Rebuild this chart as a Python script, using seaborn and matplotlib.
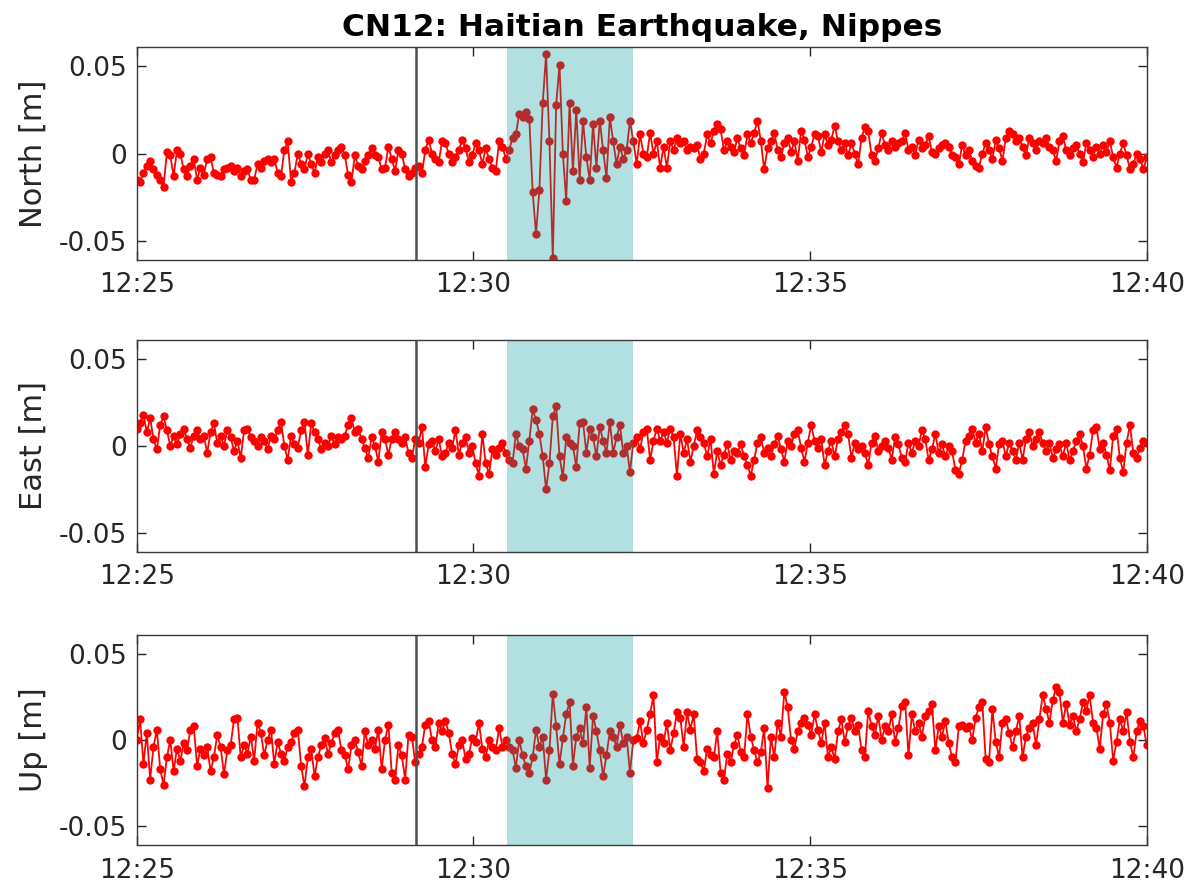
import numpy as np
import pandas as pd
import matplotlib
matplotlib.use("Agg")
import matplotlib.pyplot as plt
import seaborn as sns

# ---------------- data (displacements in millimetres) ----------------
north_mm = [
    -15, -16, -11, -7, -4, -9, -12, -15, -19, 1,
    -1, -13, 2, 0, -9, -13, -7, -3, -15, -8,
    -12, -3, -2, -11, -12, -13, -9, -8, -7, -10,
    -8, -13, -10, -9, -15, -15, -6, -8, -4, -3,
    -5, -3, -11, -13, 2, 7, -16, -11, 0, -6,
    -9, 0, -6, -11, -2, -5, 0, 2, -5, -1,
    2, 4, -1, -12, -16, -1, -7, -9, -4, -1,
    3, -1, -2, -9, -8, 4, -3, -10, 2, 0,
    -9, -13, -11, -8,
    -7, -11, 2, 8, 0, -3, -5, 7, 6, 0,
    -5, -2, 2, 8, 3, -5, -1, 6, 2, -6,
    3, -3, -8, -10, 7, 4, -3, 2, 9, 11,
    23, 21, 24, 20, -22, -46, -21, 29, 57, 7,
    -60, 28, 51, 0, -27, 29, -10, 25, -15, 19,
    -2, -15, 17, -8, 19, 2, -14, 21, 7, -6,
    4, -3, 2, 19, 7, -6, 11, 0, -2, 12,
    0, 7, -8, 4, -8, 7, 2, 9,
    6, 7, 2, 4, 3, 5, -3, 0, 11, 6,
    13, 17, 14, 2, 7, 4, 1, 9, 3, -1,
    11, 6, 12, 19, 7, -9, 3, 7, 12, 2,
    -2, 6, 9, 1, 7, -4, 13, 8, -2, 4,
    11, 10, 1, 11, 5, 8, 16, 7, 2, 6,
    -1, 6, 0, -6, 9, 15, 13, -1, -4, 3,
    12, 5, 2, 7, 4, 6, 7, 12, 2, 4,
    -1, 8, 3, 5, 10, 1, 0, 3, 5, 6,
    4, -1, -2, -6, 5, -1, 2, -4, -7, -8,
    0, 6, 2, -3, 8, 3, -4, 9, 13, 11,
    7, 9, 4, -1, 9, 6, 2, 7, 6, 9,
    4, 2, -4, 7, 10, 2, -1, 3, 5, 0,
    -5, 6, 2, -2, 4, 0, 5, 1, 7, -2,
    -8, 0, 6, -1, -9, -6, 0, -3, -9, -2,
]

east_mm = [
    10, 13, 18, 8, 16, 4, -2, 12, 17, 9,
    0, 6, 1, 7, 10, 4, -1, 6, 9, 4,
    6, -4, 8, 13, 2, 6, 0, 9, 5, -3,
    3, -7, 9, 10, 5, 3, 0, 5, 3, -2,
    6, 4, 9, 14, 0, -8, 6, 1, -1, 9,
    14, -5, 13, 8, 4, -2, 2, 0, 6, 1,
    5, 4, 6, 12, 16, 8, 10, 4, -1, -7,
    5, 0, -9, 8, 4, -5, 4, 8, 4, 2,
    5, -4, -7, 4,
    2, 11, -12, 1, 3, -3, 4, -6, -4, 2,
    -1, 9, -5, 2, 5, -4, 0, -10, -17, 7,
    -10, -16, -2, -5, -1, 2, -4, -8, -10, 7,
    0, -2, -13, 3, 21, 15, 7, -6, -25, -10,
    17, 23, -6, -18, 5, 2, 0, -12, 13, 14,
    -4, 10, 5, -6, 11, 3, -4, 14, -4, 5,
    12, -4, 0, -15, 2, 5, -2, 8, 10, -8,
    3, 10, 3, 8, 2, 10, 5, -17,
    7, -4, 4, -9, 0, 9, 5, 2, -6, 4,
    -16, -3, -11, -5, 1, -8, -3, -4, 1, -6,
    -11, -17, -8, 2, 5, -4, -1, -6, 1, 6,
    -2, -9, 3, 0, 7, 9, -1, -9, 2, 12,
    3, -1, 4, -11, -3, 3, -6, 4, 8, 12,
    7, -7, 2, -2, 0, -4, -11, 2, 6, -3,
    0, 3, -1, -8, 5, 1, -7, -9, 2, -4,
    3, 0, 9, 4, -8, -2, 7, -4, 1, -6,
    0, -3, -14, -16, -8, 3, 6, 10, 2, 7,
    -3, 11, 1, -6, -13, 1, 3, -6, 2, -3,
    -8, 2, -8, 4, 8, 0, 4, 8, 2, -3,
    2, -7, -2, 1, -6, 2, -8, -3, 3, 7,
    0, -13, -5, 9, 11, -2, 2, -5, -14, 6,
    10, -7, -15, 2, 12, -4, -7, -1, 3, 2,
]

up_mm = [
    0, 12, -14, 4, -23, -4, 6, -17, -26, -10,
    0, -18, -5, -12, -2, -6, 6, 8, -15, -5,
    -9, -4, -18, -10, 3, -4, -20, -6, -3, 12,
    13, -10, -3, -8, 2, -12, 10, 4, -9, 0,
    6, -14, -1, -8, -12, -4, -1, 4, 6, -15,
    -27, -10, -5, -21, -10, -3, 1, -8, -2, 4,
    6, -6, -9, -17, -3, 0, -7, -15, 5, -3,
    0, -5, 6, -17, 0, 9, -19, -23, -3, -9,
    -23, 3, 2, -13,
    -8, -4, 9, 11, 0, -4, 10, 5, 11, 4,
    -8, -14, -3, 0, -11, -8, 1, -1, 10, -5,
    -10, 0, -4, -6, 7, -4, 0, -4, -6, -16,
    0, -9, -15, -19, -10, 6, -4, 2, -23, -6,
    27, 8, -14, 1, 15, 22, -15, 2, 7, -2,
    19, -16, 14, 5, -6, -21, -9, 5, 2, -4,
    9, -2, 2, -19, 0, 1, 11, -2, 6, 15,
    26, -13, 2, -2, 10, -6, 4, 16,
    13, -4, 16, 6, 15, -11, -13, -18, -5, -9,
    -10, 5, -19, -23, -8, -13, -3, 3, -7, -10,
    15, 2, -6, -13, -7, 7, -28, 2, -10, 10,
    2, 28, 19, 0, -5, 5, 10, 13, 9, 3,
    15, 6, -2, 10, -10, -4, -11, 5, 12, -1,
    8, 13, 5, 9, -6, -10, 17, 8, 3, 14,
    0, 8, 5, 15, -1, 7, 20, 22, -9, 15,
    5, 10, 2, 14, 17, 21, -6, 8, 2, 11,
    -2, -10, -13, 8, 9, 7, 8, 0, 13, 19,
    22, -11, -13, 18, -1, -10, 10, 12, 4, -4,
    5, 14, -10, 2, 7, 10, -3, 12, 26, 18,
    10, 23, 31, 28, 10, 21, 9, 14, 5, 12,
    22, 17, 26, 10, 7, -5, 15, 21, 10, -12,
    -1, 12, 5, 16, -1, -10, 5, 11, 8, -3,
]

component_labels = ["North [m]", "East [m]", "Up [m]"]
title_text = "CN12: Haitian Earthquake, Nippes"
day = "2021-08-14"
start_time = "12:25:00"
end_time = "12:40:00"
event_time = "12:29:09"
shade_start = "12:30:30"
shade_end = "12:32:22"
xtick_labels = ["12:25", "12:30", "12:35", "12:40"]
ytick_values = [-0.05, 0.0, 0.05]
ytick_labels = ["-0.05", "0", "0.05"]

# ---------------- style ----------------
sns.set_theme(style="white")
plt.rcParams["font.family"] = ["DejaVu Sans"]
plt.rcParams["axes.unicode_minus"] = False

t0 = pd.Timestamp(f"{day} {start_time}")
t1 = pd.Timestamp(f"{day} {end_time}")
span_s = (t1 - t0).total_seconds()

fig = plt.figure(figsize=(11.95, 8.84), dpi=100)
left, width = 0.1144, 0.8452
positions = [
    [left, 0.7059, width, 0.2406],
    [left, 0.3756, width, 0.2398],
    [left, 0.0441, width, 0.2376],
]
series_list = [north_mm, east_mm, up_mm]
text_col = "#262626"

for k, (vals, lab, pos) in enumerate(zip(series_list, component_labels, positions)):
    ax = fig.add_axes(pos)
    n = len(vals)
    times = t0 + pd.to_timedelta(np.linspace(0, span_s, n), unit="s")
    df = pd.DataFrame({"time": times, "disp": np.asarray(vals, dtype=float) / 1000.0})
    sns.lineplot(data=df, x="time", y="disp", ax=ax, color="red", linewidth=1.3,
                 marker="o", markersize=6, markeredgewidth=0, markeredgecolor="red",
                 estimator=None, sort=False, zorder=2)
    ax.axvline(pd.Timestamp(f"{day} {event_time}"), color="#505050", linewidth=1.8, zorder=4)
    ax.axvspan(pd.Timestamp(f"{day} {shade_start}"), pd.Timestamp(f"{day} {shade_end}"),
               color=(0.0, 0.6, 0.6), alpha=0.3, linewidth=0, zorder=3)
    ax.set_xlim(t0, t1)
    ax.set_ylim(-0.061, 0.061)
    ax.set_yticks(ytick_values)
    ax.set_yticklabels(ytick_labels)
    ax.set_xticks([pd.Timestamp(f"{day} {s}") for s in xtick_labels])
    ax.set_xticklabels(xtick_labels)
    ax.tick_params(axis="both", direction="in", length=6.5, width=1.0, colors=text_col,
                   labelsize=19, top=True, right=True, bottom=True, left=True)
    ax.tick_params(axis="x", pad=9)
    ax.tick_params(axis="y", pad=7)
    ax.set_xlabel("")
    ax.set_ylabel(lab, fontsize=22, color=text_col)
    ax.yaxis.set_label_coords(-0.088, 0.5)
    for sp in ax.spines.values():
        sp.set_color("#3a3a3a")
        sp.set_linewidth(1.0)
        sp.set_zorder(5)
        sp.set_visible(True)
    ax.grid(False)
    if k == 0:
        ax.set_title(title_text, fontsize=22.5, fontweight="bold", color="black", pad=8)

fig.savefig("out.png", dpi=100)
